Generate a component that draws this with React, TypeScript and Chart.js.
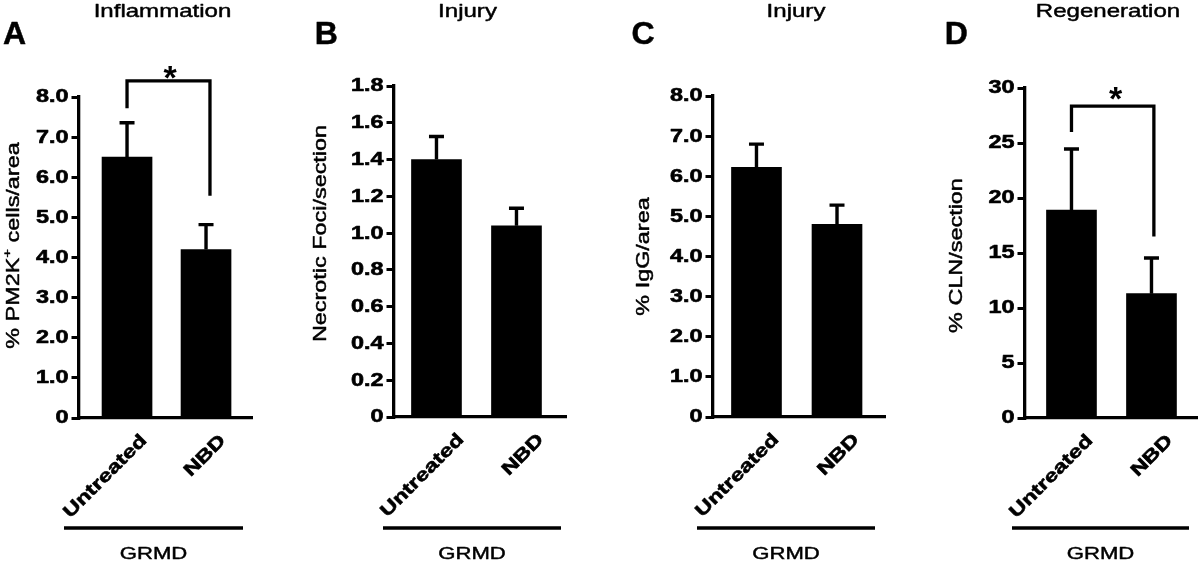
import React, { useEffect, useRef } from 'react';
import { Chart, registerables } from 'chart.js';

Chart.register(...registerables);

// ---------------- data ----------------
const categories = ['Untreated', 'NBD'];
const groupLabel = 'GRMD';
const panelLetters = ['A', 'B', 'C', 'D'];
const panelTitles = ['Inflammation', 'Injury', 'Injury', 'Regeneration'];
// odd entries are superscripts
const yAxisTitles = [
  ['% PM2K', '+', ' cells/area'],
  ['Necrotic Foci/section'],
  ['% IgG/area'],
  ['% CLN/section'],
];
const inflammationMean = [6.5, 4.2];
const inflammationSem = [0.86, 0.62];
const necroticFociMean = [1.4, 1.04];
const necroticFociSem = [0.125, 0.095];
const iggMean = [6.22, 4.8];
const iggSem = [0.58, 0.48];
const clnMean = [18.9, 11.3];
const clnSem = [5.55, 3.25];
const yAxisMax = [8, 1.8, 8, 30];
const yAxisStep = [1, 0.2, 1, 5];
const yTickDecimals = [1, 1, 1, 0];
const significanceMarks = ['*', '', '', '*'];

const means = [inflammationMean, necroticFociMean, iggMean, clnMean];
const sems = [inflammationSem, necroticFociSem, iggSem, clnSem];

// ---------------- layout / style ----------------
const W = 300;
const H = 562;
const FONT = '"Liberation Sans", Arial, Helvetica, sans-serif';
const SX = 1.3; // horizontal text stretch of the original figure
const REG_WEIGHT = 0.45;

type Bracket = { top: number; left: number; right: number; lx: number; rx: number };
type Layout = {
  axisX: number; right: number; top: number; bottom: number;
  xMin: number; xMax: number; titleX: number; letterX: number;
  yTitleX: number; yTitleShift: number; labelDx: number;
  groupL: number; groupR: number;
  bracket?: Bracket; starDx?: number; starGap?: number;
};

const layouts: Layout[] = [
  { axisX: 79, right: 252, top: 97, bottom: 418, xMin: -0.608, xMax: 1.582, titleX: 162.5, letterX: 3, yTitleX: 14, yTitleShift: -12, labelDx: 17, groupL: -15, groupR: -9,
    bracket: { top: 8.4, left: 7.72, right: 5.54, lx: 0, rx: 1.05 }, starDx: 1.5, starGap: 12 },
  { axisX: 94, right: 266, top: 86, bottom: 417, xMin: -0.531, xMax: 1.619, titleX: 167.5, letterX: 14.7, yTitleX: 21, yTitleShift: -18, labelDx: 24.5, groupL: -11, groupR: -5 },
  { axisX: 113, right: 285, top: 96, bottom: 417, xMin: -0.54, xMax: 1.596, titleX: 196, letterX: 31.5, yTitleX: 44, yTitleShift: 0, labelDx: 19.5, groupL: -16, groupR: -10 },
  { axisX: 125, right: 297, top: 88, bottom: 418, xMin: -0.581, xMax: 1.569, titleX: 208, letterX: 44.7, yTitleX: 57, yTitleShift: 2.5, labelDx: 18.5, groupL: -13, groupR: -8,
    bracket: { top: 28.35, left: 26.0, right: 16.5, lx: 0, rx: 1.03 }, starDx: 3, starGap: 16 },
];

function stretchedText(
  ctx: CanvasRenderingContext2D, text: string, x: number, y: number,
  font: string, align: CanvasTextAlign, baseline: CanvasTextBaseline, angle = 0, sx = SX, weight = 0
) {
  ctx.save();
  ctx.translate(x, y);
  if (angle) ctx.rotate(angle);
  ctx.scale(sx, 1);
  ctx.font = font;
  ctx.textAlign = align;
  ctx.textBaseline = baseline;
  ctx.fillStyle = '#000';
  ctx.fillText(text, 0, 0);
  if (weight > 0) {
    ctx.strokeStyle = '#000';
    ctx.lineWidth = weight;
    ctx.lineJoin = 'round';
    ctx.strokeText(text, 0, 0);
  }
  ctx.restore();
}

function makeDecorPlugin(index: number) {
  const L = layouts[index];
  return {
    id: 'decor' + index,
    afterDraw(chart: any) {
      const ctx: CanvasRenderingContext2D = chart.ctx;
      const xs = chart.scales.x;
      const ys = chart.scales.y;
      const ca = chart.chartArea;
      ctx.save();
      ctx.strokeStyle = '#000';
      ctx.fillStyle = '#000';
      ctx.lineCap = 'butt';

      // error bars (upper only)
      const m = means[index];
      const s = sems[index];
      ctx.lineWidth = 3.4;
      m.forEach((v, i) => {
        const x = xs.getPixelForValue(i);
        const y0 = ys.getPixelForValue(v);
        const y1 = ys.getPixelForValue(v + s[i]);
        ctx.beginPath();
        ctx.moveTo(x, y0);
        ctx.lineTo(x, y1);
        ctx.moveTo(x - 7.5, y1);
        ctx.lineTo(x + 7.5, y1);
        ctx.stroke();
      });

      // significance bracket
      if (L.bracket && significanceMarks[index]) {
        const b = L.bracket;
        const xl = xs.getPixelForValue(b.lx);
        const xr = xs.getPixelForValue(b.rx);
        const yt = ys.getPixelForValue(b.top);
        ctx.lineWidth = 3.3;
        ctx.lineJoin = 'miter';
        ctx.beginPath();
        ctx.moveTo(xl, ys.getPixelForValue(b.left));
        ctx.lineTo(xl, yt);
        ctx.lineTo(xr, yt);
        ctx.lineTo(xr, ys.getPixelForValue(b.right));
        ctx.stroke();
        const sc = yt - (L.starGap || 10);
        stretchedText(ctx, significanceMarks[index], (xl + xr) / 2 + (L.starDx || 0), sc + 0.58 * 34,
          `bold 34px ${FONT}`, 'center', 'alphabetic', 0, 1);
      }

      // y tick labels
      ys.ticks.forEach((t: any) => {
        const y = ys.getPixelForValue(t.value);
        const lbl = t.value === 0 ? '0' : Number(t.value).toFixed(yTickDecimals[index]);
        stretchedText(ctx, lbl, ca.left - 10.5, y + 0.5, `bold 18px ${FONT}`, 'right', 'middle', 0, SX, 0.6);
      });

      // x category labels (rotated 45deg)
      xs.ticks.forEach((t: any) => {
        const name = categories[t.value];
        if (name === undefined) return;
        const x = xs.getPixelForValue(t.value) + L.labelDx;
        stretchedText(ctx, name, x, ca.bottom + 20, `bold 18px ${FONT}`, 'right', 'middle', -Math.PI / 4, SX, 0.6);
      });

      // y axis title
      const parts = yAxisTitles[index];
      const cy = (ca.top + ca.bottom) / 2 + L.yTitleShift;
      const mainFont = `18px ${FONT}`;
      const supFont = `11.5px ${FONT}`;
      ctx.save();
      ctx.translate(L.yTitleX, cy);
      ctx.rotate(-Math.PI / 2);
      ctx.scale(SX, 1);
      ctx.textAlign = 'left';
      ctx.textBaseline = 'middle';
      ctx.lineWidth = REG_WEIGHT;
      ctx.lineJoin = 'round';
      let total = 0;
      parts.forEach((p, k) => {
        ctx.font = k % 2 ? supFont : mainFont;
        total += ctx.measureText(p).width;
      });
      let xx = -total / 2;
      parts.forEach((p, k) => {
        ctx.font = k % 2 ? supFont : mainFont;
        const yy = k % 2 ? -6.5 : 0;
        ctx.fillText(p, xx, yy);
        ctx.strokeText(p, xx, yy);
        xx += ctx.measureText(p).width;
      });
      ctx.restore();

      // panel title
      stretchedText(ctx, panelTitles[index], L.titleX, 17, `18.5px ${FONT}`, 'center', 'alphabetic', 0, SX, REG_WEIGHT);
      // panel letter (not stretched)
      stretchedText(ctx, panelLetters[index], L.letterX, 43.5, `bold 32px ${FONT}`, 'left', 'alphabetic', 0, 1, 0.5);

      // group line and label
      const gx1 = ca.left + L.groupL;
      const gx2 = ca.right + L.groupR;
      ctx.lineWidth = 3.6;
      ctx.beginPath();
      ctx.moveTo(gx1, 528);
      ctx.lineTo(gx2, 528);
      ctx.stroke();
      stretchedText(ctx, groupLabel, (gx1 + gx2) / 2, 559, `17px ${FONT}`, 'center', 'alphabetic', 0, SX, REG_WEIGHT);

      ctx.restore();
    },
  };
}

function Panel({ index }: { index: number }) {
  const ref = useRef<HTMLCanvasElement | null>(null);
  useEffect(() => {
    const L = layouts[index];
    const chart = new Chart(ref.current as HTMLCanvasElement, {
      type: 'bar',
      data: {
        datasets: [
          {
            data: categories.map((c, i) => ({ x: i, y: means[index][i] })) as any,
            backgroundColor: '#000',
            borderWidth: 0,
            barThickness: 50,
          },
        ],
      },
      options: {
        animation: false,
        responsive: false,
        maintainAspectRatio: false,
        layout: {
          autoPadding: false,
          padding: { left: L.axisX, right: W - L.right, top: L.top, bottom: H - L.bottom },
        },
        plugins: {
          legend: { display: false },
          tooltip: { enabled: false },
          title: { display: false },
        },
        scales: {
          x: {
            type: 'linear',
            min: L.xMin,
            max: L.xMax,
            offset: false,
            grid: { display: false },
            border: { display: true, color: '#000', width: 3.3 },
            ticks: { display: false, stepSize: 1, includeBounds: false },
            afterFit: (s: any) => { s.height = 0; },
          },
          y: {
            type: 'linear',
            min: 0,
            max: yAxisMax[index],
            grid: { display: true, drawOnChartArea: false, drawTicks: true, tickLength: 7.5, lineWidth: 3, color: '#000' },
            border: { display: true, color: '#000', width: 3.3 },
            ticks: { display: false, stepSize: yAxisStep[index] },
            afterFit: (s: any) => { s.width = 0; },
          },
        },
      } as any,
      plugins: [makeDecorPlugin(index)],
    });
    return () => chart.destroy();
  }, [index]);
  return (
    <canvas
      ref={ref}
      width={W}
      height={H}
      style={{ position: 'absolute', left: index * W, top: 0, width: W, height: H }}
    />
  );
}

export default function App() {
  return (
    <div style={{ position: 'absolute', left: 0, top: 0, width: 1200, height: 562, background: '#fff', overflow: 'hidden' }}>
      {[0, 1, 2, 3].map((i) => (
        <Panel key={i} index={i} />
      ))}
    </div>
  );
}
